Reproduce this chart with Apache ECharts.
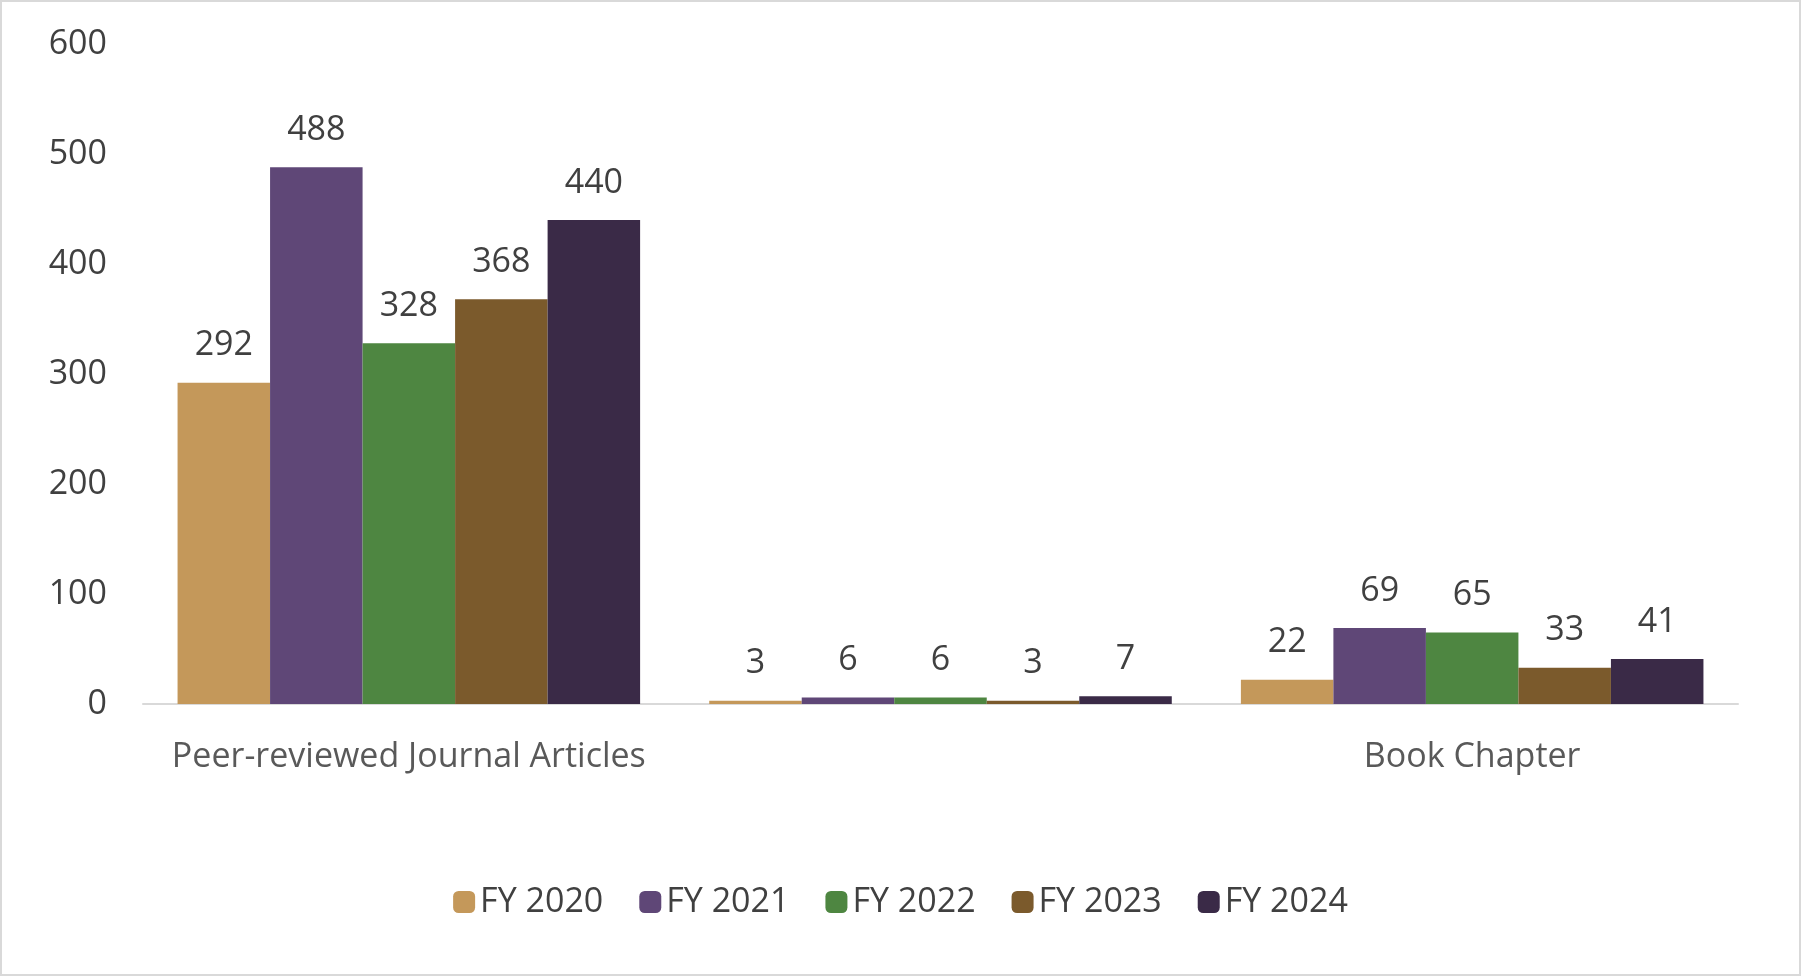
<!DOCTYPE html>
<html><head><meta charset="utf-8">
<script src="https://cdn.jsdelivr.net/npm/echarts@6/dist/echarts.min.js"></script>
<style>html,body{margin:0;padding:0;background:#fff}#c{width:1801px;height:976px;box-sizing:border-box;border:2px solid #d9d9d9}</style>
</head><body><div id="c"></div>
<script>
const categories = ['Peer-reviewed Journal Articles', 'Book, Author or Editor', 'Book Chapter'];
const seriesNames = ['FY 2020', 'FY 2021', 'FY 2022', 'FY 2023', 'FY 2024'];
const fy2020 = [292, 3, 22];
const fy2021 = [488, 6, 69];
const fy2022 = [328, 6, 65];
const fy2023 = [368, 3, 33];
const fy2024 = [440, 7, 41];
const colors = ['#C4985A', '#5F4777', '#4E8641', '#7B5A2C', '#3A2A47'];
const values = [fy2020, fy2021, fy2022, fy2023, fy2024];
const font = '"Open Sans", "Noto Sans", sans-serif';
const chart = echarts.init(document.getElementById('c'));
chart.setOption({
  animation: false,
  textStyle: {fontFamily: font},
  grid: {left: 141, right: 61, top: 42, bottom: 270},
  legend: {bottom: 50, left: 'center', itemWidth: 22, itemHeight: 22, itemGap: 36,
    textStyle: {fontSize: 34, color: '#404040', fontFamily: font}, data: seriesNames},
  xAxis: {type: 'category', data: categories,
    axisLine: {lineStyle: {color: '#d9d9d9', width: 2}}, axisTick: {show: false},
    axisLabel: {fontSize: 34, color: '#595959', margin: 36, fontFamily: font}},
  yAxis: {type: 'value', min: 0, max: 600, interval: 100,
    splitLine: {show: false}, axisLine: {show: false},
    axisLabel: {fontSize: 34, color: '#404040', margin: 36, fontFamily: font}},
  series: seriesNames.map((n, i) => ({
    name: n, type: 'bar', data: values[i], barGap: '0%', barCategoryGap: '13%',
    itemStyle: {color: colors[i]},
    label: {show: true, position: 'top', distance: 20, fontSize: 34, color: '#404040', fontFamily: font}
  }))
});
</script></body></html>
